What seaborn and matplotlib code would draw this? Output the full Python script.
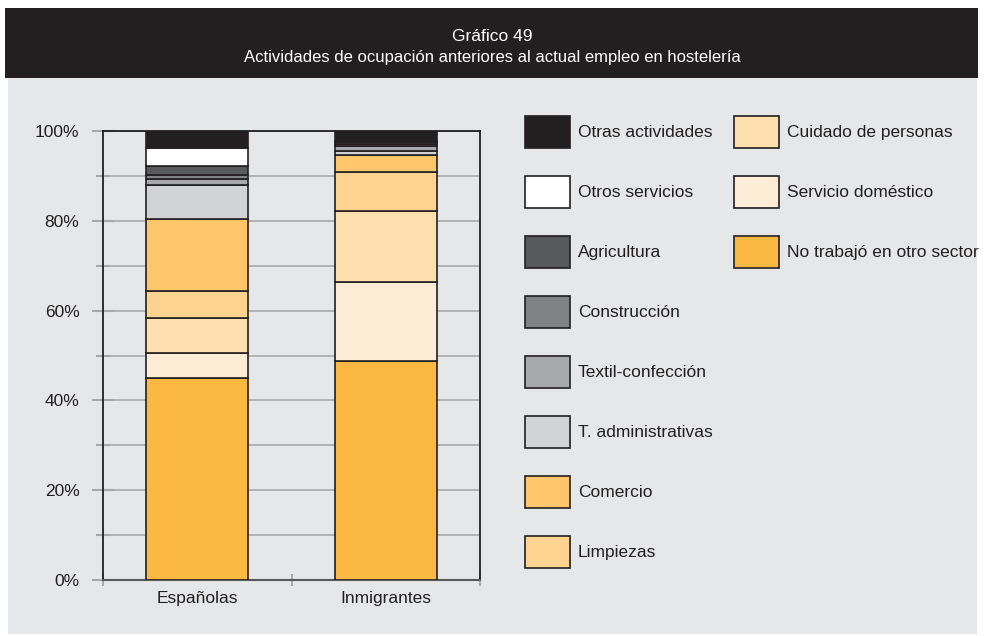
import matplotlib
matplotlib.use('Agg')
import matplotlib.pyplot as plt
import seaborn as sns
import pandas as pd
from matplotlib.patches import Patch, Rectangle

groups = ['Españolas', 'Inmigrantes']
# stacking order, bottom to top
activities = ['No trabajó en otro sector', 'Servicio doméstico', 'Cuidado de personas',
              'Limpiezas', 'Comercio', 'T. administrativas', 'Textil-confección',
              'Construcción', 'Agricultura', 'Otros servicios', 'Otras actividades']
espanolas = [45.0, 5.6, 7.8, 6.0, 16.0, 7.5, 1.3, 1.0, 1.9, 4.2, 3.7]
inmigrantes = [48.8, 17.5, 15.9, 8.6, 3.9, 0.9, 1.0, 0.5, 0.5, 0.2, 2.2]
colors = ['#fbb843', '#feedd6', '#fedfae', '#fed28f', '#fdc66b', '#d1d3d4',
          '#a7a9ac', '#808285', '#58595b', '#ffffff', '#231f20']
yticks = [0, 20, 40, 60, 80, 100]

sns.set_style('white')
plt.rcParams['font.family'] = ['Liberation Sans', 'DejaVu Sans']
fs = 12.5

df = pd.DataFrame({'actividad': activities, 'Españolas': espanolas, 'Inmigrantes': inmigrantes})

fig = plt.figure(figsize=(9.85, 6.36), dpi=100)
fig.patch.set_facecolor('white')
# grey panel and dark title bar
fig.patches.append(Rectangle((8 / 985, 2 / 636), 969 / 985, 556 / 636, transform=fig.transFigure,
                             facecolor='#e6e7e8', edgecolor='none', zorder=-10))
fig.patches.append(Rectangle((5 / 985, 558 / 636), 973 / 985, 70 / 636, transform=fig.transFigure,
                             facecolor='#231f20', edgecolor='none', zorder=-9))
fig.text(0.5, 0.943, 'Gráfico 49', color='white', ha='center', va='center', fontsize=12.5)
fig.text(0.5, 0.909, 'Actividades de ocupación anteriores al actual empleo en hostelería',
         color='white', ha='center', va='center', fontsize=12)

ax = fig.add_axes([103 / 985, 56 / 636, 377 / 985, 449 / 636])
ax.set_facecolor('#e6e7e8')

bottom = pd.Series([0.0, 0.0], index=groups)
for i, act in enumerate(activities):
    vals = df.loc[i, groups].astype(float)
    sns.barplot(x=groups, y=vals.values, bottom=bottom.values, color=colors[i], saturation=1,
                width=0.54, edgecolor='#231f20', linewidth=1.2, ax=ax, zorder=3)
    bottom = bottom + vals.values

ax.set_xlim(-0.5, 1.5)
ax.set_ylim(0, 100)
ax.set_yticks(yticks)
ax.set_yticklabels([f'{t}%' for t in yticks])
ax.set_yticks([10, 30, 50, 70, 90], minor=True)
ax.set_xticks([-0.5, 0.5, 1.5], minor=True)
ax.grid(True, axis='y', which='both', color='#acaeb1', linewidth=1.3, zorder=0)
ax.set_axisbelow(True)
ax.tick_params(axis='y', which='major', direction='inout', length=16, width=1.5,
               color='#a6a8ab', labelsize=fs, pad=9, left=True, labelcolor='#231f20')
ax.tick_params(axis='y', which='minor', direction='inout', length=10, width=1.5,
               color='#a6a8ab', left=True)
ax.tick_params(axis='x', which='major', length=0, labelsize=fs, pad=8, labelcolor='#231f20')
ax.tick_params(axis='x', which='minor', direction='inout', length=9, width=1.2,
               color='#9a9c9f', bottom=True)
for side in ['left', 'right', 'top']:
    ax.spines[side].set_color('#231f20')
    ax.spines[side].set_linewidth(1.3)
ax.spines['bottom'].set_color('#58595b')
ax.spines['bottom'].set_linewidth(1.5)
ax.set_xlabel('')
ax.set_ylabel('')

handles = [Patch(facecolor=c, edgecolor='#231f20', linewidth=1.2, label=a)
           for a, c in zip(activities, colors)][::-1]
px = fs * 100 / 72
# legend draws the patch with height fs*(0.65*hh + 0.245)
hh = (32 / px - 0.245) / 0.65
common = dict(frameon=False, fontsize=fs, handlelength=45 / px, handleheight=hh,
              labelspacing=28 / px, handletextpad=8 / px, borderaxespad=0, borderpad=0,
              labelcolor='#231f20')
leg1 = fig.legend(handles=handles[:8], loc='upper left',
                  bbox_to_anchor=(525 / 985, 1 - 116 / 636), **common)
leg2 = fig.legend(handles=handles[8:], loc='upper left',
                  bbox_to_anchor=(734 / 985, 1 - 116 / 636), **common)

fig.savefig('out.png', dpi=100, facecolor=fig.get_facecolor())
